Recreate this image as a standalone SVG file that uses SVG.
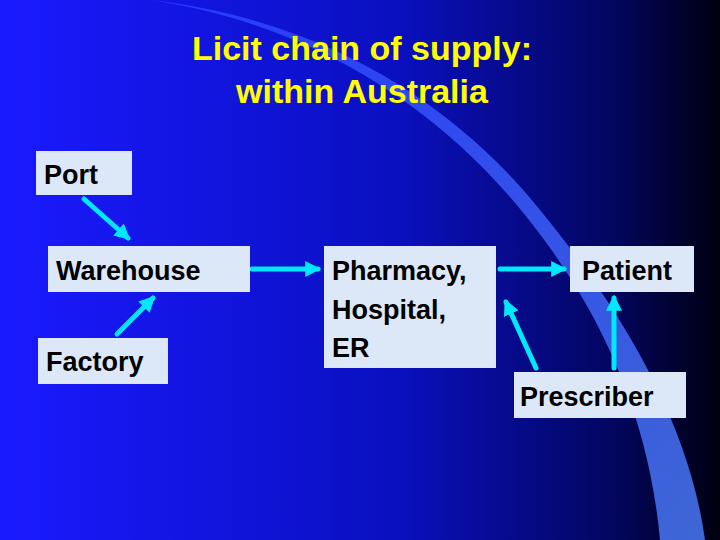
<svg xmlns="http://www.w3.org/2000/svg" width="720" height="540" viewBox="0 0 720 540">
<defs>
<linearGradient id="bg" x1="0" y1="0" x2="1" y2="0">
<stop offset="0" stop-color="#1a1aff"/><stop offset="0.55" stop-color="#0a10c0"/><stop offset="0.85" stop-color="#030660"/><stop offset="1" stop-color="#000010"/>
</linearGradient>
<linearGradient id="sw" x1="0" y1="0" x2="1" y2="1">
<stop offset="0" stop-color="#2a40ff"/><stop offset="1" stop-color="#4a78f5"/>
</linearGradient>
<marker id="ah" viewBox="0 0 10 10" refX="8" refY="5" markerWidth="3.2" markerHeight="3.2" orient="auto"><path d="M0,0 L10,5 L0,10 z" fill="#00e8ff"/></marker>
</defs>
<style>
.box{fill:#dce8f8}
.t{font-family:"Liberation Sans",Arial,sans-serif;font-size:27px;font-weight:bold;fill:#000}
.c{stroke:#00e8ff;stroke-width:5;fill:none;stroke-linecap:round;marker-end:url(#ah)}
</style>
<rect width="720" height="540" fill="url(#bg)"/>
<path d="M150,0 C330,20 460,110 540,210 C630,320 690,430 705,540 L660,540 C650,430 610,320 525,215 C445,115 320,25 150,0 Z" fill="url(#sw)" opacity="0.85"/>
<g font-family="Liberation Sans,Arial,sans-serif" font-size="34" font-weight="bold" fill="#ffff00" text-anchor="middle">
<text x="362" y="60">Licit chain of supply:</text>
<text x="362" y="103">within Australia</text>
</g>
<g id="connectors">
<line class="c" x1="84" y1="199" x2="128" y2="238"/>
<line class="c" x1="117" y1="334" x2="153" y2="298"/>
<line class="c" x1="252" y1="269" x2="318" y2="269"/>
<line class="c" x1="500" y1="269" x2="564" y2="269"/>
<line class="c" x1="536" y1="368" x2="506" y2="302"/>
<line class="c" x1="614" y1="368" x2="614" y2="298"/>
</g>
<g id="port"><rect class="box" x="36" y="151" width="96" height="44"/><text class="t" x="44" y="184">Port</text></g>
<g id="warehouse"><rect class="box" x="48" y="246" width="202" height="46"/><text class="t" x="56" y="280">Warehouse</text></g>
<g id="factory"><rect class="box" x="38" y="338" width="130" height="46"/><text class="t" x="46" y="371">Factory</text></g>
<g id="pharmacy"><rect class="box" x="324" y="246" width="172" height="122"/><text class="t" x="332" y="280">Pharmacy,</text><text class="t" x="332" y="319">Hospital,</text><text class="t" x="332" y="357">ER</text></g>
<g id="patient"><rect class="box" x="570" y="246" width="124" height="46"/><text class="t" x="582" y="280">Patient</text></g>
<g id="prescriber"><rect class="box" x="514" y="372" width="172" height="46"/><text class="t" x="520" y="406">Prescriber</text></g>
</svg>
